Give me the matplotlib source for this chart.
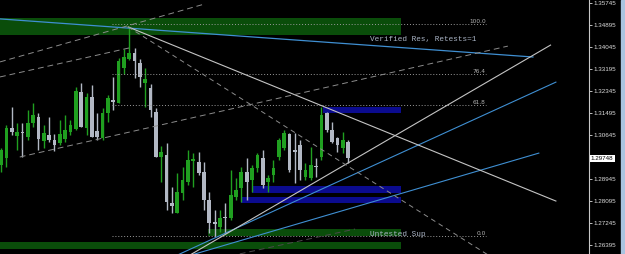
import matplotlib
matplotlib.use("Agg")
import matplotlib.pyplot as plt
import matplotlib.transforms as mtransforms

# candles (open, high, low, close), oldest first
opens = [1.2949, 1.2976, 1.3092, 1.3061, 1.3077, 1.3057, 1.3111, 1.3134, 1.3042, 1.3065,
         1.3046, 1.3034, 1.3050, 1.3077, 1.3088, 1.3231, 1.3092, 1.3212, 1.3080, 1.3053,
         1.3150, 1.3200, 1.3188, 1.3324, 1.3358, 1.3381, 1.3343, 1.3266, 1.3246, 1.3154,
         1.2980, 1.2988, 1.2802, 1.2764, 1.2841, 1.2884, 1.2965, 1.2961, 1.2922, 1.2814,
         1.2729, 1.2710, 1.2748, 1.2745, 1.2826, 1.2860, 1.2922, 1.2891, 1.2938, 1.2976,
         1.2884, 1.2911, 1.2980, 1.3015, 1.3069, 1.3007, 1.3026, 1.2903, 1.2899, 1.2945,
         1.2980, 1.3150, 1.3084, 1.3053, 1.3015, 1.3038]
highs = [1.3015, 1.3104, 1.3173, 1.3111, 1.3111, 1.3161, 1.3188, 1.3150, 1.3104, 1.3134,
         1.3069, 1.3123, 1.3142, 1.3123, 1.3250, 1.3266, 1.3227, 1.3258, 1.3150, 1.3169,
         1.3219, 1.3289, 1.3362, 1.3397, 1.3486, 1.3401, 1.3358, 1.3324, 1.3262, 1.3169,
         1.3022, 1.3034, 1.2864, 1.2918, 1.2941, 1.3007, 1.2995, 1.2999, 1.2961, 1.2845,
         1.2775, 1.2775, 1.2802, 1.2930, 1.2899, 1.2941, 1.2976, 1.2949, 1.2995, 1.3007,
         1.2911, 1.2968, 1.3053, 1.3084, 1.3073, 1.3073, 1.3046, 1.2957, 1.3019, 1.2976,
         1.3173, 1.3154, 1.3115, 1.3057, 1.3077, 1.3046]
lows = [1.2922, 1.2941, 1.3065, 1.3007, 1.2980, 1.3046, 1.3096, 1.3007, 1.3015, 1.3038,
        1.3003, 1.3026, 1.3038, 1.3065, 1.3084, 1.3096, 1.3065, 1.3057, 1.3046, 1.3046,
        1.3115, 1.3161, 1.3188, 1.3300, 1.3354, 1.3285, 1.3250, 1.3173, 1.3134, 1.2980,
        1.2884, 1.2775, 1.2764, 1.2764, 1.2814, 1.2872, 1.2864, 1.2911, 1.2775, 1.2687,
        1.2671, 1.2691, 1.2687, 1.2737, 1.2814, 1.2806, 1.2814, 1.2845, 1.2922, 1.2860,
        1.2845, 1.2884, 1.2968, 1.3007, 1.2922, 1.2880, 1.2891, 1.2891, 1.2891, 1.2903,
        1.2968, 1.3077, 1.3034, 1.2999, 1.2995, 1.2957]
closes = [1.3007, 1.3092, 1.3077, 1.3077, 1.3073, 1.3111, 1.3142, 1.3050, 1.3073, 1.3046,
          1.3026, 1.3069, 1.3084, 1.3104, 1.3235, 1.3096, 1.3212, 1.3057, 1.3057, 1.3150,
          1.3208, 1.3192, 1.3351, 1.3366, 1.3381, 1.3351, 1.3289, 1.3281, 1.3161, 1.2980,
          1.2999, 1.2806, 1.2791, 1.2845, 1.2891, 1.2968, 1.2972, 1.2918, 1.2814, 1.2725,
          1.2721, 1.2745, 1.2745, 1.2833, 1.2853, 1.2922, 1.2884, 1.2938, 1.2988, 1.2872,
          1.2899, 1.2938, 1.3046, 1.3073, 1.2930, 1.2999, 1.2930, 1.2930, 1.2949, 1.2941,
          1.3142, 1.3084, 1.3038, 1.3026, 1.3046, 1.29748]

last_price = 1.29748
price_ticks = [1.35745, 1.34895, 1.34045, 1.33195, 1.32345, 1.31495,
               1.30645, 1.28945, 1.28095, 1.27245, 1.26395]

# supply / demand zones: (start bar, end bar, bottom, top)
green_zones = [(-1, 74.9, 1.3451, 1.3517),
               (38.7, 74.9, 1.2675, 1.2701),
               (-1, 74.9, 1.2625, 1.2652)]
blue_zones = [(60.2, 74.9, 1.3150, 1.3173),
              (46.9, 74.9, 1.2841, 1.2868),
              (44.9, 74.9, 1.2802, 1.2826)]

# fibonacci retracement
fib_high = 1.3493
fib_low = 1.2675
fib_levels = [100.0, 76.4, 61.8, 0.0]
fib_start, fib_end = 20.8, 90.8

# trend lines: ((bar0, price0), (bar1, price1))
res_line = ((-0.2, 1.3513), (99.6, 1.3366))
blue_sup1 = ((31.8, 1.2590), (103.9, 1.3269))
blue_sup2 = ((33.7, 1.2590), (100.7, 1.2995))
white_sup = ((34.4, 1.2590), (102.9, 1.3412))
white_res = ((23.8, 1.3482), (103.9, 1.2810))
dash_res = ((23.8, 1.3482), (91.5, 1.2598))
chan_mid = ((3.5, 1.2980), (94.9, 1.3408))
chan_top = ((-0.2, 1.3289), (24.0, 1.3401))
chan_top2 = ((-0.2, 1.3347), (38.2, 1.3571))
chan_low = ((44.7, 1.2606), (66.3, 1.2702))

bull = '#20a020'
bear = '#b2b8c4'

fig = plt.figure(figsize=(6.25, 2.54), dpi=100, facecolor='black')
ax = fig.add_axes([0, 0, 589 / 625, 1])
ax.set_facecolor('black')
ax.set_xlim(-0.2, 110.1)
ax.set_ylim(1.26056, 1.3586)

for x0, x1, lo, hi in green_zones:
    ax.fill_between([x0, x1], lo, hi, color='#0a4d0a', lw=0, zorder=1)
for x0, x1, lo, hi in blue_zones:
    ax.fill_between([x0, x1], lo, hi, color='#0b0b8e', lw=0, zorder=1)

# candles
for i in range(len(opens)):
    o, h, l, c = opens[i], highs[i], lows[i], closes[i]
    col = bull if c >= o else bear
    ax.vlines(i, l, h, color=col, lw=1.0, zorder=3)
    body = max(abs(c - o), 0.0004)
    ax.bar(i, body, bottom=min(o, c), width=0.7, color=col, lw=0, zorder=3)

# fibonacci lines
for lv in fib_levels:
    p = fib_low + (fib_high - fib_low) * lv / 100
    ax.plot([fib_start, fib_end], [p, p], color='#9a9a9a', lw=0.7, ls=(0, (1, 2)), zorder=4)
    ax.text(fib_end, p + 0.0002, '%.1f' % lv, color='#b0b0b0', fontsize=4.2,
            ha='right', va='bottom', zorder=5)

def seg(line, **kw):
    (a, b), (c, d) = line
    ax.plot([a, c], [b, d], zorder=4, **kw)

seg(res_line, color='#3f8fd2', lw=0.9)
seg(blue_sup1, color='#3f8fd2', lw=0.8)
seg(blue_sup2, color='#3f8fd2', lw=0.8)
seg(white_sup, color='#c4c4c4', lw=0.8)
seg(white_res, color='#c4c4c4', lw=0.8)
seg(dash_res, color='#8c8c8c', lw=0.7, ls=(0, (5, 4)))
seg(chan_mid, color='#8c8c8c', lw=0.7, ls=(0, (6, 4)))
seg(chan_top, color='#8c8c8c', lw=0.7, ls=(0, (6, 4)))
seg(chan_top2, color='#8c8c8c', lw=0.7, ls=(0, (6, 4)))
seg(chan_low, color='#4a4a4a', lw=0.7, ls=(0, (6, 4)))

ax.text(69.1, 1.3435, 'Verified Res, Retests=1', family='Liberation Mono',
        fontsize=5.6, color='#a9b3c4', ha='left', va='center', zorder=5)
ax.text(69.1, 1.2679, 'Untested Sup', family='Liberation Mono',
        fontsize=5.6, color='#a9b3c4', ha='left', va='center', zorder=5)

# price axis
ax.set_xticks([])
ax.yaxis.tick_right()
ax.set_yticks(price_ticks)
ax.set_yticklabels(['%.5f' % t for t in price_ticks], family='Liberation Sans')
ax.tick_params(axis='y', colors='#dddddd', labelsize=4.5, length=2, width=0.6, pad=1.5)
for s in ['top', 'left', 'bottom']:
    ax.spines[s].set_visible(False)
ax.spines['right'].set_color('#c8c8c8')
ax.spines['right'].set_linewidth(0.8)

trans = mtransforms.blended_transform_factory(ax.transAxes, ax.transData)
ax.text(1.003, last_price, '%.5f' % last_price, transform=trans, family='Liberation Sans',
        fontsize=4.5, color='black', ha='left', va='center',
        bbox=dict(boxstyle='square,pad=0.2', fc='white', ec='none'), zorder=6)

fig.patches.append(plt.Rectangle((621 / 625, 0), 4 / 625, 1, transform=fig.transFigure,
                                 color='#a9c4e0', zorder=0))

fig.savefig('out.png', dpi=100, facecolor='black')
